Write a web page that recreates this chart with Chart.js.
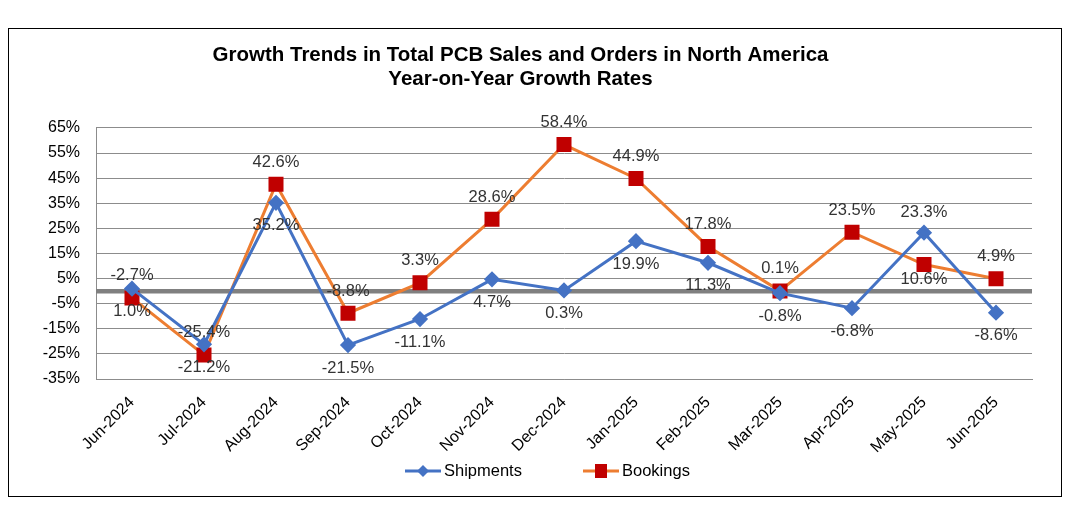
<!DOCTYPE html>
<html>
<head>
<meta charset="utf-8">
<script src="https://cdn.jsdelivr.net/npm/chart.js@4.4.1/dist/chart.umd.min.js"></script>
<style>
  body { margin: 0; background: #fff; }
  #box { position: absolute; left: 8px; top: 28px; width: 1052px; height: 467px; border: 1px solid #000; }
  canvas { display: block; }
</style>
</head>
<body>
<div id="box"><canvas id="chart" width="1052" height="467"></canvas></div>
<script>
const months = ['Jun-2024', 'Jul-2024', 'Aug-2024', 'Sep-2024', 'Oct-2024', 'Nov-2024', 'Dec-2024',
  'Jan-2025', 'Feb-2025', 'Mar-2025', 'Apr-2025', 'May-2025', 'Jun-2025'];
const shipments = [1.0, -21.2, 35.2, -21.5, -11.1, 4.7, 0.3, 19.9, 11.3, -0.8, -6.8, 23.3, -8.6];
const bookings = [-2.7, -25.4, 42.6, -8.8, 3.3, 28.6, 58.4, 44.9, 17.8, 0.1, 23.5, 10.6, 4.9];
const yMin = -35, yMax = 65, yStep = 10;

const FONT = "'Liberation Sans', Arial, sans-serif";
const BLUE = '#4472C4', ORANGE = '#ED7D31', RED = '#C00000';

const zeroLine = {
  id: 'zeroLine',
  beforeDatasetsDraw(chart) {
    const { ctx, chartArea, scales } = chart;
    const y = scales.y.getPixelForValue(0);
    ctx.save();
    ctx.strokeStyle = '#808080';
    ctx.lineWidth = 4.5;
    ctx.beginPath(); ctx.moveTo(chartArea.left, y); ctx.lineTo(chartArea.right, y); ctx.stroke();
    ctx.restore();
  }
};

const valueLabels = {
  id: 'valueLabels',
  afterDatasetsDraw(chart) {
    const ctx = chart.ctx;
    const mShip = chart.getDatasetMeta(0), mBook = chart.getDatasetMeta(1);
    ctx.save();
    ctx.font = '16.5px ' + FONT;
    ctx.fillStyle = '#333';
    ctx.textAlign = 'center';
    ctx.textBaseline = 'middle';
    months.forEach((m, i) => {
      // bookings label sits above, shipments below, unless shipments clearly on top
      const flip = shipments[i] > bookings[i] + 5;
      const ps = mShip.data[i], pb = mBook.data[i];
      ctx.fillText(shipments[i].toFixed(1) + '%', ps.x, ps.y + (flip ? -20 : 23));
      ctx.fillText(bookings[i].toFixed(1) + '%', pb.x, pb.y + (flip ? 15 : -22));
    });
    ctx.restore();
  }
};

// Excel style legend: short line with the marker on it
const lineLegend = {
  id: 'lineLegend',
  afterDraw(chart) {
    const ctx = chart.ctx;
    const y = 442;
    const starts = [396, 574];
    ctx.save();
    ctx.font = '16.5px ' + FONT;
    ctx.textBaseline = 'middle';
    chart.data.datasets.forEach((ds, i) => {
      const x = starts[i];
      ctx.strokeStyle = ds.borderColor; ctx.lineWidth = 3;
      ctx.beginPath(); ctx.moveTo(x, y); ctx.lineTo(x + 36, y); ctx.stroke();
      ctx.fillStyle = ds.pointBackgroundColor;
      if (ds.pointStyle === 'rectRot') {
        ctx.beginPath(); ctx.moveTo(x + 18, y - 6); ctx.lineTo(x + 24, y); ctx.lineTo(x + 18, y + 6); ctx.lineTo(x + 12, y);
        ctx.closePath(); ctx.fill();
      } else {
        ctx.fillRect(x + 12, y - 7, 12, 14);
      }
      ctx.fillStyle = '#000';
      ctx.fillText(ds.label, x + 39, y);
    });
    ctx.restore();
  }
};

new Chart(document.getElementById('chart'), {
  type: 'line',
  data: {
    labels: months,
    datasets: [
      { label: 'Shipments', data: shipments, borderColor: BLUE, backgroundColor: BLUE, borderWidth: 3,
        pointStyle: 'rectRot', pointRadius: 6, pointBackgroundColor: BLUE, pointBorderColor: BLUE, tension: 0 },
      { label: 'Bookings', data: bookings, borderColor: ORANGE, backgroundColor: RED, borderWidth: 3,
        pointStyle: 'rect', pointRadius: 8.5, pointBackgroundColor: RED, pointBorderColor: RED, tension: 0 }
    ]
  },
  options: {
    responsive: false,
    animation: false,
    devicePixelRatio: 1,
    layout: { padding: { left: 0, right: 29, top: 0, bottom: 0 } },
    plugins: {
      title: {
        display: true,
        text: ['Growth Trends in Total PCB Sales and Orders in North America', 'Year-on-Year Growth Rates'],
        color: '#000',
        font: { family: FONT, size: 20.5, weight: 'bold', lineHeight: 1.17 },
        padding: { top: 14, bottom: 37 }
      },
      legend: { display: false },
      tooltip: { enabled: false }
    },
    scales: {
      x: {
        offset: true,
        grid: { display: false },
        border: { display: true, color: '#8c8c8c', width: 1 },
        ticks: { color: '#000', font: { family: FONT, size: 16 }, minRotation: 45, maxRotation: 45, padding: 6 },
        afterFit(scale) { scale.height = 117; }
      },
      y: {
        min: yMin,
        max: yMax,
        grid: { color: '#8c8c8c', lineWidth: 1, drawTicks: false },
        border: { display: true, color: '#8c8c8c', width: 1 },
        ticks: { stepSize: yStep, color: '#000', font: { family: FONT, size: 16 }, padding: 16,
          callback: v => v + '%' },
        afterFit(scale) { scale.width = 87; }
      }
    }
  },
  plugins: [zeroLine, valueLabels, lineLegend]
});
</script>
</body>
</html>
